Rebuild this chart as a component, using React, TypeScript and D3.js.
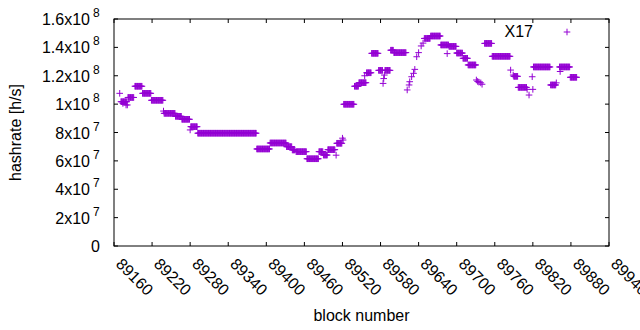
import React from "react";
import * as d3 from "d3";

// [firstBlock, lastBlock, hashrate in MH/s] — flat stretches
const plateaus: [number, number, number][] = [
  [89171, 89180, 101.7],
  [89182, 89191, 104.7],
  [89193, 89204, 112.6],
  [89205, 89218, 107.6],
  [89219, 89237, 102.7],
  [89239, 89256, 93.5],
  [89257, 89266, 91.4],
  [89267, 89279, 89.3],
  [89281, 89291, 84.1],
  [89292, 89384, 79.5],
  [89385, 89405, 68.4],
  [89406, 89431, 72.6],
  [89432, 89440, 70.0],
  [89441, 89445, 67.7],
  [89447, 89463, 66.5],
  [89464, 89482, 61.5],
  [89483, 89489, 66.5],
  [89490, 89496, 64.1],
  [89497, 89508, 67.9],
  [89511, 89519, 72.4],
  [89522, 89538, 99.9],
  [89539, 89545, 112.6],
  [89546, 89557, 115.1],
  [89558, 89565, 122.1],
  [89566, 89576, 135.8],
  [89577, 89583, 123.8],
  [89587, 89595, 123.8],
  [89596, 89600, 138.0],
  [89601, 89620, 136.3],
  [89649, 89658, 146.3],
  [89659, 89674, 148.0],
  [89675, 89687, 141.7],
  [89688, 89699, 140.7],
  [89700, 89709, 136.0],
  [89710, 89717, 132.3],
  [89718, 89730, 127.6],
  [89744, 89755, 142.8],
  [89756, 89784, 133.7],
  [89790, 89796, 119.6],
  [89797, 89810, 111.8],
  [89821, 89847, 126.2],
  [89848, 89856, 113.5],
  [89862, 89878, 126.2],
  [89879, 89889, 118.9],
];

// [block, hashrate in MH/s] — isolated points
const singles: [number, number][] = [
  [89169, 107.6],
  [89174, 100.5],
  [89179, 99.4],
  [89181, 99.4],
  [89238, 95.1],
  [89280, 81.8],
  [89510, 64.0],
  [89520, 76.0],
  [89521, 74.7],
  [89555, 120.0],
  [89584, 114.6],
  [89585, 118.0],
  [89586, 120.5],
  [89622, 110.0],
  [89625, 113.5],
  [89626, 115.8],
  [89629, 119.3],
  [89632, 121.7],
  [89634, 124.5],
  [89637, 133.4],
  [89640, 136.3],
  [89644, 141.0],
  [89647, 143.0],
  [89685, 135.6],
  [89731, 117.0],
  [89733, 116.0],
  [89735, 115.5],
  [89738, 115.0],
  [89740, 114.0],
  [89785, 124.0],
  [89789, 120.5],
  [89811, 110.4],
  [89814, 106.4],
  [89819, 119.3],
  [89820, 110.4],
  [89857, 115.0],
  [89863, 123.0],
];

const xTicks = [89160, 89220, 89280, 89340, 89400, 89460, 89520, 89580, 89640, 89700, 89760, 89820, 89880, 89940];
const yTicks: [number, string, string][] = [
  [0, "0", ""],
  [2e7, "2x10", "7"],
  [4e7, "4x10", "7"],
  [6e7, "6x10", "7"],
  [8e7, "8x10", "7"],
  [1e8, "1x10", "8"],
  [1.2e8, "1.2x10", "8"],
  [1.4e8, "1.4x10", "8"],
  [1.6e8, "1.6x10", "8"],
];
const seriesName = "X17";
const color = "#9400D3";

const L = 114, R = 609, T = 19, B = 246;
const FONT = "'Liberation Sans', Arial, sans-serif";

export default function App() {
  const x = d3.scaleLinear().domain([89160, 89940]).range([L, R]);
  const y = d3.scaleLinear().domain([0, 1.6e8]).range([B, T]);

  const pts: [number, number][] = [];
  plateaus.forEach(([a, b, v]) => {
    for (let k = a; k <= b; k++) pts.push([k, v * 1e6]);
  });
  singles.forEach(([k, v]) => pts.push([k, v * 1e6]));

  const h = 3.3;
  const plus = (cx: number, cy: number) =>
    `M${cx - h},${cy}H${cx + h}M${cx},${cy - h}V${cy + h}`;
  const path = pts.map(([k, v]) => plus(x(k), y(v))).join("");
  const tk = 4;

  return (
    <svg width={640} height={330} style={{ position: "absolute", left: 0, top: 0, background: "#fff" }} fontFamily={FONT}>
      <rect x={0} y={0} width={640} height={330} fill="#fff" />
      <path d={path} stroke={color} strokeWidth={1} fill="none" />
      {xTicks.map((t) => (
        <g key={"xt" + t}>
          <line x1={x(t)} x2={x(t)} y1={B} y2={B - tk} stroke="#000" />
          <line x1={x(t)} x2={x(t)} y1={T} y2={T + tk} stroke="#000" />
          <text
            transform={`translate(${x(t) + 1},${265}) rotate(45)`}
            fontSize={16}
            fill="#000"
          >
            {t}
          </text>
        </g>
      ))}
      {yTicks.map(([v, m, e]) => (
        <g key={"yt" + v}>
          <line x1={L} x2={L + tk} y1={y(v)} y2={y(v)} stroke="#000" />
          <line x1={R} x2={R - tk} y1={y(v)} y2={y(v)} stroke="#000" />
          <text x={e ? 90 : 100} y={y(v) + 6} textAnchor="end" fontSize={16} fill="#000">
            {m}
          </text>
          {e && (
            <text x={93} y={y(v) - 2} fontSize={12} fill="#000">
              {e}
            </text>
          )}
        </g>
      ))}
      <rect x={L} y={T} width={R - L} height={B - T} fill="none" stroke="#000" strokeWidth={1} />
      <text
        transform={`translate(21,${(T + B) / 2}) rotate(-90)`}
        textAnchor="middle"
        fontSize={16}
        fill="#000"
      >
        hashrate [h/s]
      </text>
      <text x={(L + R) / 2} y={321} textAnchor="middle" fontSize={16} fill="#000">
        block number
      </text>
      <text x={533} y={37} textAnchor="end" fontSize={16} fill="#000">
        {seriesName}
      </text>
      <path d={plus(567, 32)} stroke={color} strokeWidth={1} fill="none" />
    </svg>
  );
}
